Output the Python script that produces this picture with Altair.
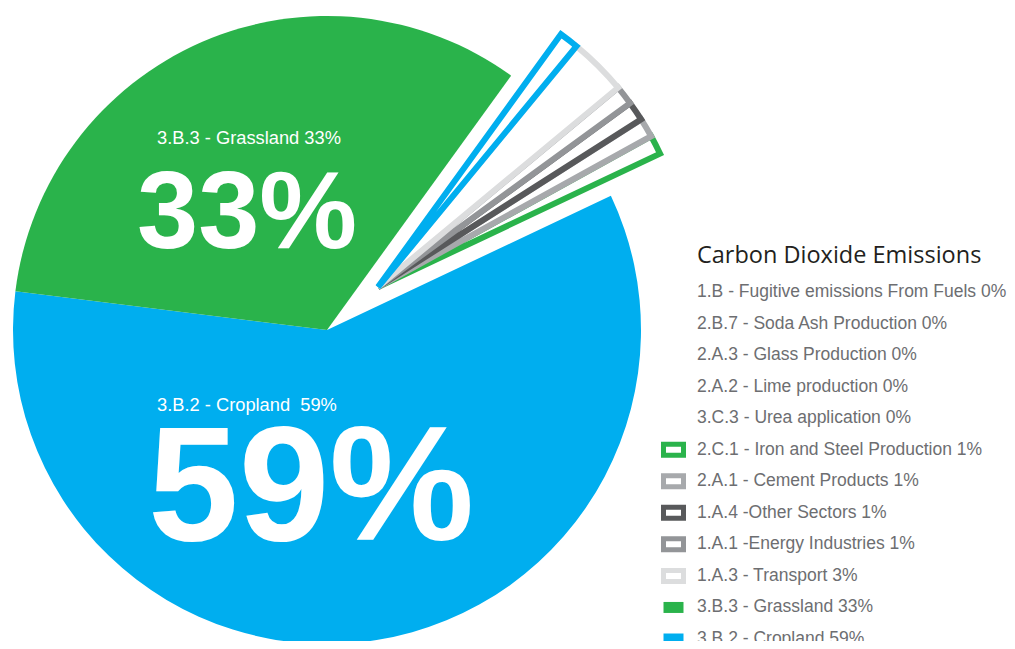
import math
import altair as alt
import pandas as pd

# ---------------- data ----------------
categories = [
    "0% categories",
    "1.A.3 - Transport",
    "1.A.1 -Energy Industries",
    "1.A.4 -Other Sectors",
    "2.A.1 - Cement Products",
    "2.C.1 - Iron and Steel Production",
    "3.B.2 - Cropland",
    "3.B.3 - Grassland",
]
values = [1, 3, 1, 1, 1, 1, 59, 33]
groups = ["small", "small", "small", "small", "small", "small", "main", "main"]

legend_labels = [
    "1.B - Fugitive emissions From Fuels 0%",
    "2.B.7 - Soda Ash Production 0%",
    "2.A.3 - Glass Production 0%",
    "2.A.2 - Lime production 0%",
    "3.C.3 - Urea application 0%",
    "2.C.1 - Iron and Steel Production 1%",
    "2.A.1 - Cement Products 1%",
    "1.A.4 -Other Sectors 1%",
    "1.A.1 -Energy Industries 1%",
    "1.A.3 - Transport 3%",
    "3.B.3 - Grassland 33%",
    "3.B.2 - Cropland 59%",
]
legend_keys = [
    "", "", "", "", "",
    "2.C.1 - Iron and Steel Production",
    "2.A.1 - Cement Products",
    "1.A.4 -Other Sectors",
    "1.A.1 -Energy Industries",
    "1.A.3 - Transport",
    "3.B.3 - Grassland",
    "3.B.2 - Cropland",
]
legend_kinds = ["none"] * 5 + ["outline"] * 5 + ["solid"] * 2

title_text = "Carbon Dioxide Emissions"
grass_small = "3.B.3 - Grassland 33%"
grass_big = "33%"
crop_small = "3.B.2 - Cropland \u00a059%"
crop_big = "59%"

# ---------------- styles ----------------
palette = ["#00aeef", "#dcddde", "#939598", "#58595b", "#a7a9ac", "#2ab34b", "#00aeef", "#2ab34b"]
color_scale = alt.Scale(domain=categories, range=palette)
start = math.radians(35.9)
theta_scale = alt.Scale(domain=[0, 100], range=[start, start + 2 * math.pi])
RECT = "M-1,-0.55H1V0.55H-1Z"
LABEL_FONT = "Liberation Sans"

pie_df = pd.DataFrame({"category": categories, "value": values, "group": groups,
                       "idx": list(range(len(categories)))})
leg_df = pd.DataFrame({"label": legend_labels, "key": legend_keys, "kind": legend_kinds,
                       "row": list(range(len(legend_labels)))})

base = (
    alt.Chart(pie_df)
    .transform_window(cum="sum(value)", sort=[alt.SortField("idx")])
    .transform_calculate(start="datum.cum - datum.value")
)

cx, cy = 319, 322
main = base.transform_filter("datum.group == 'main'").mark_arc(outerRadius=314).encode(
    theta=alt.Theta("start:Q", scale=theta_scale),
    theta2="cum:Q",
    fill=alt.Fill("category:N", scale=color_scale, legend=None),
    x=alt.value(cx),
    y=alt.value(cy),
)

small = base.transform_filter("datum.group == 'small'").mark_arc(
    outerRadius=312, fill="white", strokeWidth=6
).encode(
    theta=alt.Theta("start:Q", scale=theta_scale),
    theta2="cum:Q",
    stroke=alt.Stroke("category:N", scale=color_scale, legend=None),
    order=alt.Order("idx:Q", sort="descending"),
    x=alt.value(cx + 51),
    y=alt.value(cy - 43),
)

def txt(s, x, y, size, bold=False):
    return alt.Chart(pd.DataFrame({"t": [s]})).mark_text(
        align="left", baseline="alphabetic", font=LABEL_FONT, fontSize=size,
        fontWeight="bold" if bold else "normal", color="white"
    ).encode(text="t:N", x=alt.value(x), y=alt.value(y))

annots = [
    txt(grass_small, 149, 136, 18.3),
    txt(grass_big, 129, 240, 110, True),
    txt(crop_small, 149, 403, 18.3),
    txt(crop_big, 140, 532, 163, True),
]

yenc = alt.Y("row:Q", scale=alt.Scale(domain=[0, 11], range=[284, 631], nice=False), axis=None)
leg = alt.Chart(leg_df)
leg_text = leg.mark_text(align="left", baseline="middle", font=LABEL_FONT, fontSize=17.5,
                         color="#6d6e71").encode(text="label:N", y=yenc, x=alt.value(689))
leg_outline = leg.transform_filter("datum.kind == 'outline'").mark_point(
    shape=RECT, size=400, strokeWidth=5, fill="white", opacity=1
).encode(stroke=alt.Stroke("key:N", scale=color_scale, legend=None), y=yenc, x=alt.value(665.5))
leg_solid = leg.transform_filter("datum.kind == 'solid'").mark_point(
    shape=RECT, size=400, filled=True, opacity=1, strokeWidth=0
).encode(fill=alt.Fill("key:N", scale=color_scale, legend=None), y=yenc, x=alt.value(665.5))

leg_title = alt.Chart(pd.DataFrame({"t": [title_text]})).mark_text(
    align="left", baseline="middle", font="Open Sans", fontSize=23.5, color="#231f20"
).encode(text="t:N", x=alt.value(689), y=alt.value(248))

chart = alt.layer(main, small, *annots, leg_text, leg_outline, leg_solid, leg_title).properties(
    width=999, height=633, padding=0, autosize=alt.AutoSizeParams(type="none")
).configure_view(stroke=None)

chart.save("out.html", embed_options={"renderer": "svg", "actions": False})
